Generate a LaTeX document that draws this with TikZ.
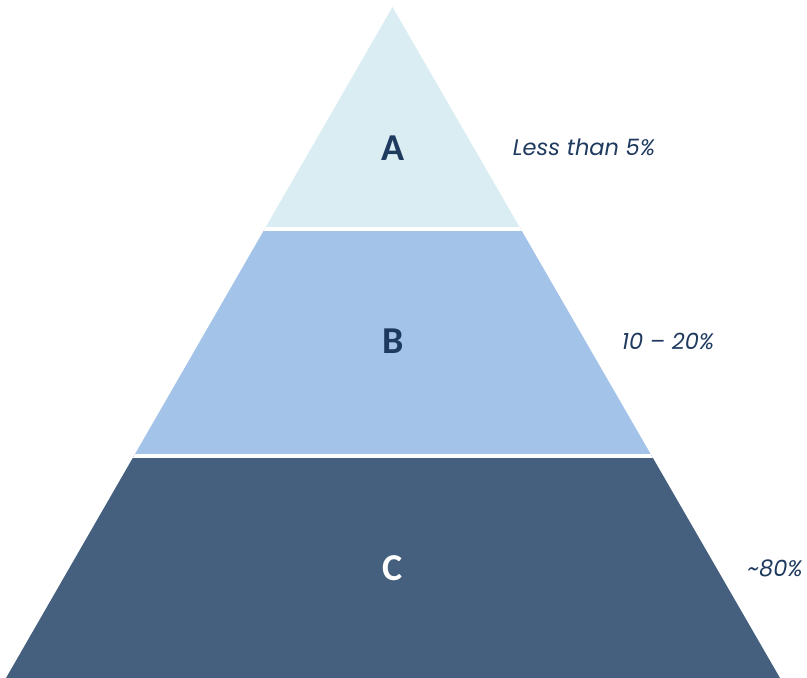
\documentclass[tikz,border=0pt]{standalone}
\usepackage{fontspec}
\setmainfont{Carlito}
\newfontfamily\labelfont[Ligatures=TeX]{Poppins}
\usepackage{tikz}
\definecolor{tierA}{HTML}{DAEDF3}
\definecolor{tierB}{HTML}{A4C3E9}
\definecolor{tierC}{HTML}{45607F}
\definecolor{navy}{HTML}{1F3A5F}

\begin{document}
\begin{tikzpicture}[x=1pt,y=-1pt,
	letter/.style={font=\fontsize{38}{38}\selectfont\bfseries},
	share/.style={font=\labelfont\itshape\fontsize{22.5}{22.5}\selectfont, text=navy}]
		\useasboundingbox (0,0) rectangle (807,678);
		\coordinate (apex) at (392.5,7);
		\coordinate (bl) at (6,678);
		\coordinate (br) at (780,678);
		\begin{scope}
		   \clip (apex) -- (br) -- (bl) -- cycle;
		   \fill[tierA] (0,0) rectangle (807,227);
		   \fill[tierB] (0,227) rectangle (807,455);
		   \fill[tierC] (0,455) rectangle (807,678);
		   \fill[white] (0,226.5) rectangle (807,231);
		   \fill[white] (0,453.5) rectangle (807,457.5);
		\end{scope}
		\node[letter, text=navy] (a) at (393,148) {A};
		\node[letter, text=navy] (b) at (393,341) {B};
		\node[letter, text=white] (c) at (393,568) {C};
		\node[share] (ashare) at (584,147) {Less than 5\%};
		\node[share] (bshare) at (668,341) {10 – 20\%};
		\node[share] (cshare) at (775,568) {\textasciitilde 80\%};
	\end{tikzpicture}
\end{document}
